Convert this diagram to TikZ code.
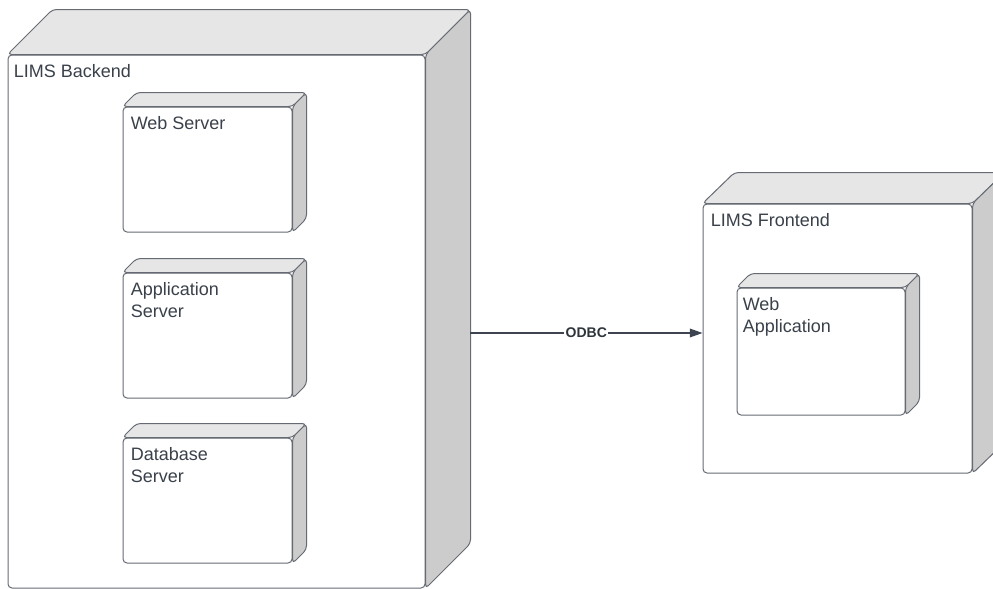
\documentclass[tikz,border=0pt]{standalone}
\usepackage{fontspec}
\setmainfont{Liberation Sans}
\usetikzlibrary{arrows.meta}

\definecolor{edgegray}{HTML}{666B73}
\definecolor{topgray}{HTML}{E6E6E6}
\definecolor{sidegray}{HTML}{CCCCCC}
\definecolor{txtgray}{HTML}{3A414A}
\definecolor{linegray}{HTML}{3D4450}

\begin{document}
\begin{tikzpicture}[x=0.75pt, y=-0.75pt,
				every node/.style={ text=txtgray,
						font=\fontsize{13.5}{16.5}\selectfont },
				front/.style={ draw=edgegray, fill=white, rounded corners=3pt,
						line width=0.75pt, inner sep=0pt },
				topface/.style={ draw=edgegray, fill=topgray, rounded corners=3pt,
						line width=0.75pt },
				sideface/.style={ draw=edgegray, fill=sidegray, rounded corners=3pt,
						line width=0.75pt },
				title/.style={ anchor=base west, inner sep=0pt, align=left },
				conn/.style={ draw=linegray, line width=1pt,
						-{Triangle[length=9.5pt,width=6.5pt]} },
				conntext/.style={ fill=white, inner sep=1pt, text=txtgray!80!black,
						font=\fontsize{10.5}{12}\selectfont\bfseries } ]

			\useasboundingbox (0,0) rectangle (993,589);

			% backend
			\node[front, minimum width=312.75pt, minimum height=399.75pt] (backend) at (216.5,321.5) {};
			\draw[topface] (backend.north west) -- ([shift={(45,-45)}]backend.north west)
				-- ([shift={(45,-45)}]backend.north east) -- (backend.north east) -- cycle;
			\draw[sideface] (backend.north east) -- ([shift={(45,-45)}]backend.north east)
				-- ([shift={(45,-45)}]backend.south east) -- (backend.south east) -- cycle;
			\node[title] (backendtitle) at ([shift={(6,23)}]backend.north west) {LIMS Backend};

			\node[front, minimum width=126.75pt, minimum height=93.75pt] (websrv) at (207.5,169.5) {};
			\draw[topface] (websrv.north west) -- ([shift={(14,-14)}]websrv.north west)
				-- ([shift={(14,-14)}]websrv.north east) -- (websrv.north east) -- cycle;
			\draw[sideface] (websrv.north east) -- ([shift={(14,-14)}]websrv.north east)
				-- ([shift={(14,-14)}]websrv.south east) -- (websrv.south east) -- cycle;
			\node[title] (websrvtitle) at ([shift={(8,23)}]websrv.north west) {Web Server};

			\node[front, minimum width=126.75pt, minimum height=93.75pt] (appsrv) at (207.5,335.5) {};
			\draw[topface] (appsrv.north west) -- ([shift={(14,-14)}]appsrv.north west)
				-- ([shift={(14,-14)}]appsrv.north east) -- (appsrv.north east) -- cycle;
			\draw[sideface] (appsrv.north east) -- ([shift={(14,-14)}]appsrv.north east)
				-- ([shift={(14,-14)}]appsrv.south east) -- (appsrv.south east) -- cycle;
			% base of a two line node sits on its last line
			\node[title] (appsrvtitle) at ([shift={(8,45)}]appsrv.north west) {Application\\Server};

			\node[front, minimum width=126.75pt, minimum height=93.75pt] (dbsrv) at (207.5,500.5) {};
			\draw[topface] (dbsrv.north west) -- ([shift={(14,-14)}]dbsrv.north west)
				-- ([shift={(14,-14)}]dbsrv.north east) -- (dbsrv.north east) -- cycle;
			\draw[sideface] (dbsrv.north east) -- ([shift={(14,-14)}]dbsrv.north east)
				-- ([shift={(14,-14)}]dbsrv.south east) -- (dbsrv.south east) -- cycle;
			\node[title] (dbsrvtitle) at ([shift={(8,45)}]dbsrv.north west) {Database\\Server};

			% frontend
			\node[front, minimum width=201.75pt, minimum height=201.75pt] (frontend) at (837.5,338.5) {};
			\draw[topface] (frontend.north west) -- ([shift={(32,-31)}]frontend.north west)
				-- ([shift={(32,-31)}]frontend.north east) -- (frontend.north east) -- cycle;
			\draw[sideface] (frontend.north east) -- ([shift={(32,-31)}]frontend.north east)
				-- ([shift={(32,-31)}]frontend.south east) -- (frontend.south east) -- cycle;
			\node[title] (frontendtitle) at ([shift={(8,23)}]frontend.north west) {LIMS Frontend};

			\node[front, minimum width=126pt, minimum height=95.25pt] (webapp) at (821,351.5) {};
			\draw[topface] (webapp.north west) -- ([shift={(14,-14)}]webapp.north west)
				-- ([shift={(14,-14)}]webapp.north east) -- (webapp.north east) -- cycle;
			\draw[sideface] (webapp.north east) -- ([shift={(14,-14)}]webapp.north east)
				-- ([shift={(14,-14)}]webapp.south east) -- (webapp.south east) -- cycle;
			\node[title] (webapptitle) at ([shift={(6,45)}]webapp.north west) {Web\\Application};

			\coordinate (odbcstart) at (470,333);
			\draw[conn] (odbcstart) -- (frontend.west |- odbcstart)
				node[conntext, midway] (odbc) {ODBC};
		\end{tikzpicture}
\end{document}
